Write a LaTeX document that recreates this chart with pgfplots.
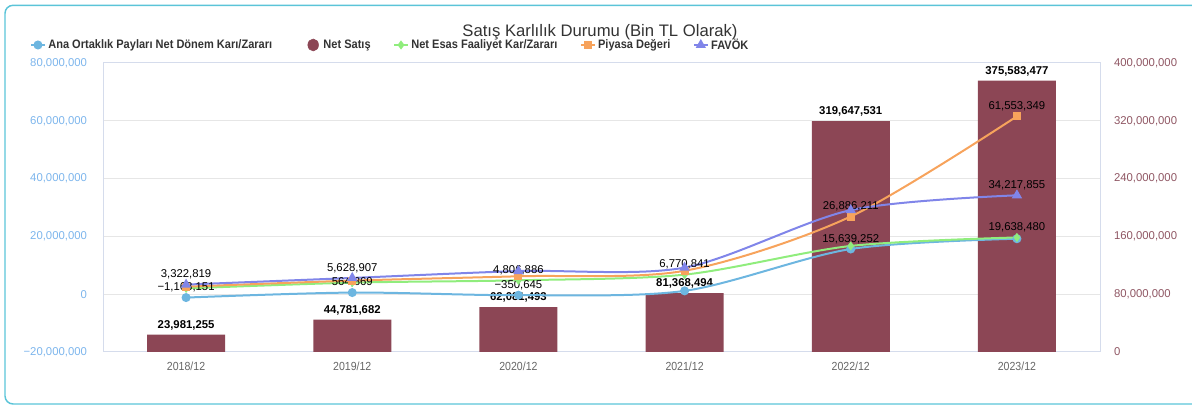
\documentclass[border=0pt]{standalone}
\usepackage{fontspec}
\setmainfont{Liberation Sans}
\newfontfamily\condfont{Liberation Sans}[FakeStretch=0.9]
\usepackage{pgfplots}
\pgfplotsset{compat=1.18}
\definecolor{barcol}{HTML}{8C4655}
\definecolor{bluecol}{HTML}{6DB6E0}
\definecolor{greencol}{HTML}{90ED7D}
\definecolor{orangecol}{HTML}{F7A35C}
\definecolor{purplecol}{HTML}{8085E9}
\definecolor{gridcol}{HTML}{E6E6E6}
\definecolor{framecol}{HTML}{D5DCEC}
\definecolor{lcol}{HTML}{7CB5EC}
\definecolor{rcol}{HTML}{8F5663}
\definecolor{xcol}{HTML}{666666}
\definecolor{titlecol}{HTML}{333333}
\definecolor{bordercol}{HTML}{5BC4D8}
\begin{document}
\begin{tikzpicture}
\path[use as bounding box] (0,0) rectangle (894pt,304.5pt);
\draw[bordercol, line width=1.1pt, rounded corners=6pt] (910pt,1.5pt) -- (3.75pt,1.5pt) -- (3.75pt,300.5pt) -- (910pt,300.5pt);
\begin{axis}[
  at={(77.25pt,40.5pt)}, anchor=south west, scale only axis,
  width=747.75pt, height=216.75pt,
  xmin=-0.5, xmax=5.5, ymin=0, ymax=400000000,
  scaled y ticks=false,
  xtick={0,1,2,3,4,5},
  xticklabels={2018/12,2019/12,2020/12,2021/12,2022/12,2023/12},
  ytick={0,80000000,160000000,240000000,320000000,400000000},
  yticklabels={{0},{80,000,000},{160,000,000},{240,000,000},{320,000,000},{400,000,000}},
  yticklabel pos=right,
  ymajorgrids, grid style={gridcol, line width=0.75pt},
  axis line style={framecol, line width=0.75pt},
  major tick length=0pt,
  tick label style={font=\fontsize{8.5}{10}\selectfont},
  yticklabel style={text=rcol, xshift=7pt},
  xticklabel style={text=xcol, font=\condfont\fontsize{8.8}{10}\selectfont, yshift=-4pt},
  ybar, bar width=58.5pt, clip=false,
  nodes near coords, point meta=explicit symbolic,
  every node near coord/.append style={font=\bfseries\fontsize{8.5}{10}\selectfont, text=black},
]
\addplot[fill=barcol, draw=none] coordinates {
  (0,23981255) [{23,981,255}]
  (1,44781682) [{44,781,682}]
  (2,62081493) [{62,081,493}]
  (3,81368494) [{81,368,494}]
  (4,319647531) [{319,647,531}]
  (5,375583477) [{375,583,477}]
};
\end{axis}
\begin{axis}[
  at={(77.25pt,40.5pt)}, anchor=south west, scale only axis,
  width=747.75pt, height=216.75pt,
  xmin=-0.5, xmax=5.5, ymin=-20000000, ymax=80000000,
  scaled y ticks=false,
  axis x line=none, axis y line*=left,
  axis line style={draw=none},
  ytick={-20000000,0,20000000,40000000,60000000,80000000},
  yticklabels={{−20,000,000},{0},{20,000,000},{40,000,000},{60,000,000},{80,000,000}},
  yticklabel style={text=lcol, xshift=-8.5pt, font=\fontsize{8.5}{10}\selectfont},
  major tick length=0pt, clip=false,
  nodes near coords, point meta=explicit symbolic,
  every node near coord/.append style={font=\fontsize{8.5}{10}\selectfont, text=black},
  legend image code/.code={\draw[mark repeat=2, mark phase=2] plot coordinates {(0pt,0pt)(5pt,0pt)(10pt,0pt)};},
  legend style={at={(-0.0732,1.0623)}, anchor=west, draw=none, fill=none, inner sep=0pt,
    font=\condfont\bfseries\fontsize{9.2}{11}\selectfont, text=titlecol,
    legend columns=-1, /tikz/every even column/.append style={column sep=15pt}},
]
\addplot[smooth, bluecol, line width=1.5pt, mark=*, mark size=2.6pt] coordinates {
  (0,-1168151) [{−1,168,151}]
  (1,564869) [{564,869}]
  (2,-350645) [{−350,645}]
  (3,1150000) [{}]
  (4,15639252) [{15,639,252}]
  (5,19200000) [{}]
};
\addlegendentry{Ana Ortaklık Payları Net Dönem Karı/Zararı}
\addlegendimage{barcol, fill=barcol, legend image code/.code={\path (0pt,0pt) (19pt,0pt); \fill (13.5pt,0pt) ellipse (4pt and 4.5pt);}}
\addlegendentry{Net Satış}
\addplot[smooth, greencol, line width=1.5pt, mark=diamond*, mark size=2.2pt] coordinates {
  (0,2000000) [{}]
  (1,4000000) [{}]
  (2,4806886) [{4,806,886}]
  (3,6770841) [{6,770,841}]
  (4,16700000) [{}]
  (5,19638480) [{19,638,480}]
};
\addlegendentry{Net Esas Faaliyet Kar/Zararı}
\addplot[smooth, orangecol, line width=1.5pt, mark=square*, mark size=2.3pt] coordinates {
  (0,2600000) [{}]
  (1,4700000) [{}]
  (2,6200000) [{}]
  (3,8100000) [{}]
  (4,26886211) [{26,886,211}]
  (5,61553349) [{61,553,349}]
};
\addlegendentry{Piyasa Değeri}
\addplot[smooth, purplecol, line width=1.5pt, mark=triangle*, mark size=3pt] coordinates {
  (0,3322819) [{3,322,819}]
  (1,5628907) [{5,628,907}]
  (2,8000000) [{}]
  (3,9200000) [{}]
  (4,29100000) [{}]
  (5,34217855) [{34,217,855}]
};
\addlegendentry{FAVÖK}
\end{axis}
\node[font=\fontsize{12.5}{14}\selectfont, text=titlecol] at (450pt,280pt) {Satış Karlılık Durumu (Bin TL Olarak)};
\end{tikzpicture}
\end{document}
